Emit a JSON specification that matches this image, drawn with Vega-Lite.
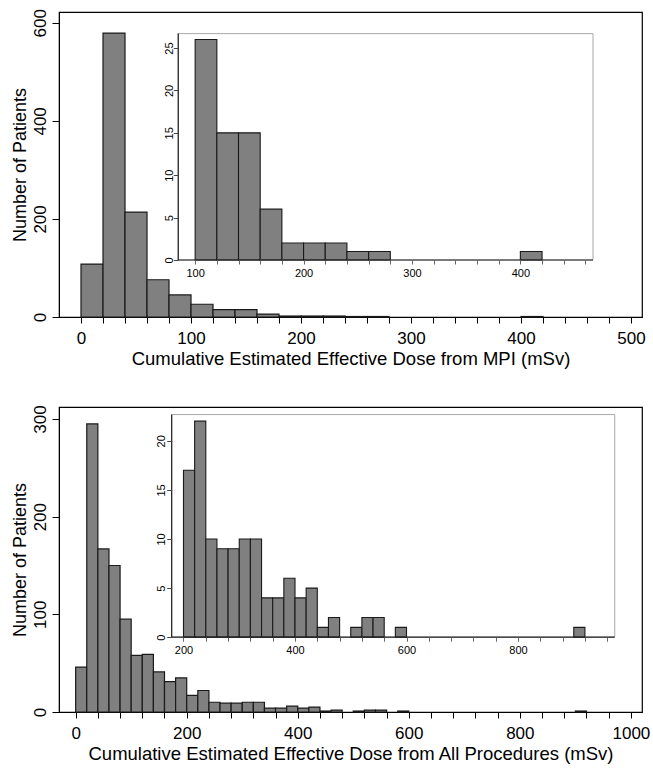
{
  "$schema": "https://vega.github.io/schema/vega-lite/v6.json",
  "background": "white",
  "padding": {"left": 10, "top": 8, "right": 5, "bottom": 5},
  "datasets": {
    "mpi": [
      {"start": 0, "end": 20, "count": 108},
      {"start": 20, "end": 40, "count": 579},
      {"start": 40, "end": 60, "count": 214},
      {"start": 60, "end": 80, "count": 76},
      {"start": 80, "end": 100, "count": 45},
      {"start": 100, "end": 120, "count": 26},
      {"start": 120, "end": 140, "count": 15},
      {"start": 140, "end": 160, "count": 15},
      {"start": 160, "end": 180, "count": 6},
      {"start": 180, "end": 200, "count": 2},
      {"start": 200, "end": 220, "count": 2},
      {"start": 220, "end": 240, "count": 2},
      {"start": 240, "end": 260, "count": 1},
      {"start": 260, "end": 280, "count": 1},
      {"start": 400, "end": 420, "count": 1}
    ],
    "allproc": [
      {"start": 0, "end": 20, "count": 46},
      {"start": 20, "end": 40, "count": 295},
      {"start": 40, "end": 60, "count": 167},
      {"start": 60, "end": 80, "count": 150},
      {"start": 80, "end": 100, "count": 95},
      {"start": 100, "end": 120, "count": 58},
      {"start": 120, "end": 140, "count": 59},
      {"start": 140, "end": 160, "count": 41},
      {"start": 160, "end": 180, "count": 31},
      {"start": 180, "end": 200, "count": 35},
      {"start": 200, "end": 220, "count": 17},
      {"start": 220, "end": 240, "count": 22},
      {"start": 240, "end": 260, "count": 10},
      {"start": 260, "end": 280, "count": 9},
      {"start": 280, "end": 300, "count": 9},
      {"start": 300, "end": 320, "count": 10},
      {"start": 320, "end": 340, "count": 10},
      {"start": 340, "end": 360, "count": 4},
      {"start": 360, "end": 380, "count": 4},
      {"start": 380, "end": 400, "count": 6},
      {"start": 400, "end": 420, "count": 4},
      {"start": 420, "end": 440, "count": 5},
      {"start": 440, "end": 460, "count": 1},
      {"start": 460, "end": 480, "count": 2},
      {"start": 500, "end": 520, "count": 1},
      {"start": 520, "end": 540, "count": 2},
      {"start": 540, "end": 560, "count": 2},
      {"start": 580, "end": 600, "count": 1},
      {"start": 900, "end": 920, "count": 1}
    ]
  },
  "config": {
    "font": "Liberation Sans",
    "view": {"stroke": "black", "strokeWidth": 1.2},
    "axis": {"grid": false, "labelColor": "black", "titleColor": "black", "tickColor": "black", "domainColor": "black", "titleFontWeight": "normal", "labelFont": "Liberation Sans", "titleFont": "Liberation Sans"}
  },
  "spacing": 90,
  "bounds": "flush",
  "vconcat": [
    {
      "width": 583,
      "height": 305,
      "layer": [
        {
          "data": {"name": "mpi"},
          "mark": {"type": "bar", "fill": "#808080", "stroke": "#1a1a1a", "strokeWidth": 1.2},
          "encoding": {
            "x": {"field": "start", "type": "quantitative",
              "scale": {"domain": [-20, 510], "nice": false, "zero": false},
              "axis": {"values": [0,20,40,60,80,100,120,140,160,180,200,220,240,260,280,300,320,340,360,380,400,420,440,460,480,500],
                "format": "d", "labelExpr": "datum.value % 100 === 0 ? datum.label : ''", "labelOverlap": false, "labelFlush": false,
                "tickSize": 6, "labelFontSize": 17, "labelPadding": 7,
                "title": "Cumulative Estimated Effective Dose from MPI (mSv)", "titleFontSize": 18.5, "titlePadding": 3}},
            "x2": {"field": "end"},
            "y": {"field": "count", "type": "quantitative",
              "scale": {"domain": [0, 622], "nice": false},
              "axis": {"values": [0, 200, 400, 600], "labelAngle": -90, "labelAlign": "center", "labelBaseline": "alphabetic",
                "tickSize": 7, "labelPadding": 7, "labelFontSize": 17,
                "title": "Number of Patients", "titleFontSize": 18, "titlePadding": 2}},
            "y2": {"datum": 0}
          }
        },
        {
          "data": {"values": [{}]},
          "mark": {"type": "rect", "fill": "white", "stroke": "#a8a8a8", "strokeWidth": 1},
          "encoding": {
            "x": {"datum": 84.4, "type": "quantitative", "scale": {"domain": [-25.6, 512.2], "nice": false, "zero": false}, "axis": null},
            "x2": {"datum": 467},
            "y": {"datum": 0, "type": "quantitative", "scale": {"domain": [-6.72, 29.25], "nice": false, "zero": false}, "axis": null},
            "y2": {"datum": 26.7}
          }
        },
        {
          "data": {"name": "mpi"},
          "transform": [{"filter": "datum.start >= 100"}],
          "mark": {"type": "bar", "fill": "#808080", "stroke": "#1a1a1a", "strokeWidth": 1.1},
          "encoding": {
            "x": {"field": "start", "type": "quantitative",
              "scale": {"domain": [-25.6, 512.2], "nice": false, "zero": false},
              "axis": {"orient": "bottom", "offset": -57, "domain": false, "title": null, "zindex": 2,
                "values": [100,120,140,160,180,200,220,240,260,280,300,320,340,360,380,400,420,440,460],
                "format": "d", "labelExpr": "datum.value % 100 === 0 ? datum.label : ''", "labelOverlap": false, "labelFlush": false,
                "tickSize": 4, "tickColor": "#666", "labelFontSize": 11, "labelPadding": 3}},
            "x2": {"field": "end"},
            "y": {"field": "count", "type": "quantitative",
              "scale": {"domain": [-6.72, 29.25], "nice": false, "zero": false},
              "axis": {"orient": "left", "offset": -119.3, "domain": false, "title": null, "zindex": 2,
                "values": [0, 5, 10, 15, 20, 25], "labelAngle": -90, "labelAlign": "center", "labelBaseline": "alphabetic",
                "tickSize": 5, "tickColor": "#444", "labelFontSize": 11, "labelPadding": 1}},
            "y2": {"datum": 0}
          }
        },
        {
          "data": {"values": [{}]},
          "mark": {"type": "rule", "color": "#222", "strokeWidth": 1.2},
          "encoding": {
            "x": {"datum": 84.4, "type": "quantitative", "scale": {"domain": [-25.6, 512.2], "nice": false, "zero": false}, "axis": null},
            "y": {"datum": 0, "type": "quantitative", "scale": {"domain": [-6.72, 29.25], "nice": false, "zero": false}, "axis": null},
            "y2": {"datum": 26.7}
          }
        },
        {
          "data": {"values": [{}]},
          "mark": {"type": "rule", "color": "#222", "strokeWidth": 1.2},
          "encoding": {
            "x": {"datum": 84.4, "type": "quantitative", "scale": {"domain": [-25.6, 512.2], "nice": false, "zero": false}, "axis": null},
            "x2": {"datum": 467},
            "y": {"datum": 0, "type": "quantitative", "scale": {"domain": [-6.72, 29.25], "nice": false, "zero": false}, "axis": null}
          }
        }
      ],
      "resolve": {"scale": {"x": "independent", "y": "independent"}, "axis": {"x": "independent", "y": "independent"}}
    },
    {
      "width": 583,
      "height": 305,
      "layer": [
        {
          "data": {"name": "allproc"},
          "mark": {"type": "bar", "fill": "#808080", "stroke": "#1a1a1a", "strokeWidth": 1.2},
          "encoding": {
            "x": {"field": "start", "type": "quantitative",
              "scale": {"domain": [-30, 1020], "nice": false, "zero": false},
              "axis": {"values": [0,40,80,120,160,200,240,280,320,360,400,440,480,520,560,600,640,680,720,760,800,840,880,920,960,1000],
                "format": "d", "labelExpr": "datum.value % 200 === 0 ? datum.label : ''", "labelOverlap": false, "labelFlush": false,
                "tickSize": 6, "labelFontSize": 17, "labelPadding": 7,
                "title": "Cumulative Estimated Effective Dose from All Procedures (mSv)", "titleFontSize": 18.5, "titlePadding": 3}},
            "x2": {"field": "end"},
            "y": {"field": "count", "type": "quantitative",
              "scale": {"domain": [0, 312.3], "nice": false},
              "axis": {"values": [0, 100, 200, 300], "labelAngle": -90, "labelAlign": "center", "labelBaseline": "alphabetic",
                "tickSize": 7, "labelPadding": 7, "labelFontSize": 17,
                "title": "Number of Patients", "titleFontSize": 18, "titlePadding": 2}},
            "y2": {"datum": 0}
          }
        },
        {
          "data": {"values": [{}]},
          "mark": {"type": "rect", "fill": "white", "stroke": "#a8a8a8", "strokeWidth": 1},
          "encoding": {
            "x": {"datum": 178.8, "type": "quantitative", "scale": {"domain": [-23.3, 1022.4], "nice": false, "zero": false}, "axis": null},
            "x2": {"datum": 973.5},
            "y": {"datum": 0, "type": "quantitative", "scale": {"domain": [-7.62, 23.44], "nice": false, "zero": false}, "axis": null},
            "y2": {"datum": 22.67}
          }
        },
        {
          "data": {"name": "allproc"},
          "transform": [{"filter": "datum.start >= 200"}],
          "mark": {"type": "bar", "fill": "#808080", "stroke": "#1a1a1a", "strokeWidth": 1.1},
          "encoding": {
            "x": {"field": "start", "type": "quantitative",
              "scale": {"domain": [-23.3, 1022.4], "nice": false, "zero": false},
              "axis": {"orient": "bottom", "offset": -74.8, "domain": false, "title": null, "zindex": 2,
                "values": [200,240,280,320,360,400,440,480,520,560,600,640,680,720,760,800,840,880,920,960],
                "format": "d", "labelExpr": "datum.value % 200 === 0 ? datum.label : ''", "labelOverlap": false, "labelFlush": false,
                "tickSize": 4, "tickColor": "#666", "labelFontSize": 11, "labelPadding": 3}},
            "x2": {"field": "end"},
            "y": {"field": "count", "type": "quantitative",
              "scale": {"domain": [-7.62, 23.44], "nice": false, "zero": false},
              "axis": {"orient": "left", "offset": -112.7, "domain": false, "title": null, "zindex": 2,
                "values": [0, 5, 10, 15, 20], "labelAngle": -90, "labelAlign": "center", "labelBaseline": "alphabetic",
                "tickSize": 5, "tickColor": "#444", "labelFontSize": 11, "labelPadding": 2}},
            "y2": {"datum": 0}
          }
        },
        {
          "data": {"values": [{}]},
          "mark": {"type": "rule", "color": "#222", "strokeWidth": 1.2},
          "encoding": {
            "x": {"datum": 178.8, "type": "quantitative", "scale": {"domain": [-23.3, 1022.4], "nice": false, "zero": false}, "axis": null},
            "y": {"datum": 0, "type": "quantitative", "scale": {"domain": [-7.62, 23.44], "nice": false, "zero": false}, "axis": null},
            "y2": {"datum": 22.67}
          }
        },
        {
          "data": {"values": [{}]},
          "mark": {"type": "rule", "color": "#222", "strokeWidth": 1.2},
          "encoding": {
            "x": {"datum": 178.8, "type": "quantitative", "scale": {"domain": [-23.3, 1022.4], "nice": false, "zero": false}, "axis": null},
            "x2": {"datum": 973.5},
            "y": {"datum": 0, "type": "quantitative", "scale": {"domain": [-7.62, 23.44], "nice": false, "zero": false}, "axis": null}
          }
        }
      ],
      "resolve": {"scale": {"x": "independent", "y": "independent"}, "axis": {"x": "independent", "y": "independent"}}
    }
  ]
}
